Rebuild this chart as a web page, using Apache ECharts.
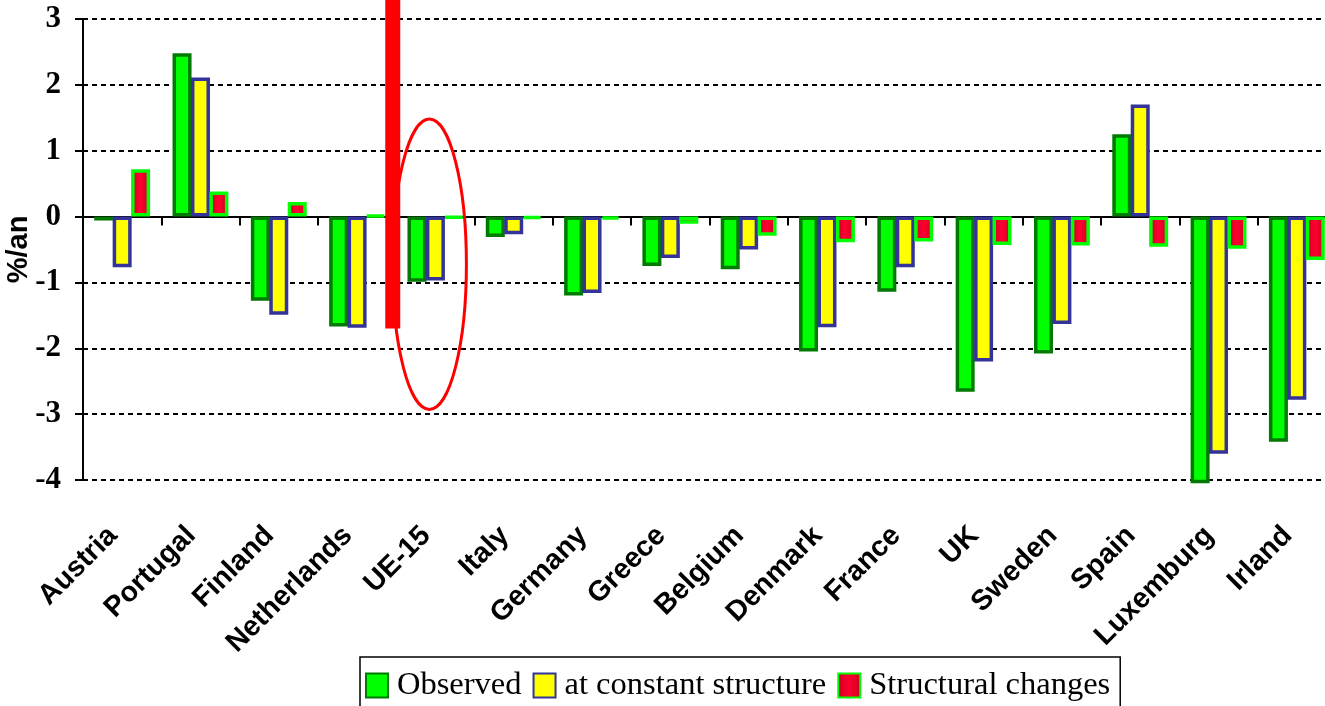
<!DOCTYPE html>
<html>
<head>
<meta charset="utf-8">
<script src="https://cdn.jsdelivr.net/npm/echarts@6/dist/echarts.min.js"></script>
<style>
  html, body { margin: 0; padding: 0; background: #fff; }
  #main { width: 1325px; height: 706px; }
</style>
</head>
<body>
<div id="main"></div>
<script>
var categories = ['Austria', 'Portugal', 'Finland', 'Netherlands', 'UE-15', 'Italy', 'Germany', 'Greece',
                  'Belgium', 'Denmark', 'France', 'UK', 'Sweden', 'Spain', 'Luxemburg', 'Irland'];
var observed   = [-0.06, 2.48, -1.28, -1.67, -0.99, -0.31, -1.20, -0.75, -0.80, -2.05, -1.14, -2.66, -2.08, 1.25, -4.05, -3.42];
var constant   = [-0.77, 2.11, -1.49, -1.69, -0.97, -0.27, -1.16, -0.63, -0.50, -1.68, -0.77, -2.20, -1.63, 1.70, -3.60, -2.78];
var structural = [0.72, 0.38, 0.22, 0.02, -0.02, -0.03, -0.04, -0.11, -0.29, -0.39, -0.38, -0.43, -0.44, -0.46, -0.49, -0.66];
var yTicks = { min: -4, max: 3, step: 1 };

// annotation: vertical red bar between Netherlands and UE-15, ellipse around UE-15
var barBottomValue = -1.7;
var ellipseTop = 1.48, ellipseBottom = -2.93;

var redFill = {
    type: 'linear', x: 0, y: 0, x2: 1, y2: 0,
    colorStops: [
        { offset: 0, color: '#c80020' },
        { offset: 0.5, color: '#ff0030' },
        { offset: 1, color: '#c80020' }
    ]
};

var myChart = echarts.init(document.getElementById('main'));

var option = {
    animation: false,
    backgroundColor: '#fff',
    grid: { left: 83, right: -11, top: 19, bottom: 226, containLabel: false, outerBoundsMode: 'none' },
    legend: {
        left: 360,
        top: 657,
        padding: [12, 10, 30, 5],
        borderColor: '#000',
        borderWidth: 1.5,
        backgroundColor: '#fff',
        icon: 'rect',
        itemWidth: 22,
        itemHeight: 24,
        itemGap: 11,
        textStyle: { fontFamily: 'Liberation Serif', fontSize: 32.5, color: '#000', padding: [0, 0, 0, 4] },
        data: ['Observed', 'at constant structure', 'Structural changes']
    },
    xAxis: [
        {
            type: 'category',
            data: categories,
            position: 'bottom',
            axisLine: { onZero: true, lineStyle: { color: '#000', width: 2 } },
            axisTick: { show: true, length: 9, interval: 0, lineStyle: { color: '#000', width: 2 } },
            axisLabel: { show: false },
            splitLine: { show: false }
        },
        {
            type: 'category',
            data: categories,
            position: 'bottom',
            axisLine: { show: false, onZero: false },
            axisTick: { show: false },
            axisLabel: {
                interval: 0, rotate: 45, margin: 42,
                padding: [0, 13, 0, 0],
                fontFamily: 'Liberation Sans', fontWeight: 'bold', fontSize: 28.5, color: '#000'
            },
            splitLine: { show: false }
        }
    ],
    yAxis: {
        type: 'value',
        min: yTicks.min,
        max: yTicks.max,
        interval: yTicks.step,
        name: '%/an',
        nameLocation: 'middle',
        nameGap: 50,
        nameRotate: 90,
        nameMoveOverlap: false,
        nameTextStyle: { fontFamily: 'Liberation Sans', fontWeight: 'bold', fontSize: 29, color: '#000' },
        axisLine: { show: true, onZero: false, lineStyle: { color: '#000', width: 2 } },
        axisTick: { show: true, length: 8, lineStyle: { color: '#000', width: 2 } },
        axisLabel: { fontFamily: 'Liberation Serif', fontWeight: 'bold', fontSize: 31, color: '#000', margin: 22 },
        splitLine: { show: true, lineStyle: { color: '#000', width: 2, type: [5, 4] } }
    },
    series: [
        {
            name: 'Observed', type: 'bar', data: observed,
            barWidth: 19, barGap: '-3%', clip: false,
            itemStyle: { color: '#00ff00', borderColor: '#007a00', borderWidth: 3.5 }
        },
        {
            name: 'at constant structure', type: 'bar', data: constant,
            barWidth: 19, barGap: '-3%', clip: false,
            itemStyle: { color: '#ffff00', borderColor: '#333399', borderWidth: 3.5 }
        },
        {
            name: 'Structural changes', type: 'bar', data: structural,
            barWidth: 19, barGap: '-3%', clip: false,
            itemStyle: { color: redFill, borderColor: '#00ff00', borderWidth: 3.5 }
        }
    ]
};
myChart.setOption(option);

// place the hand-drawn annotations from the axes
var ueIdx = categories.indexOf('UE-15');
var pNeth = myChart.convertToPixel({ xAxisIndex: 0, yAxisIndex: 0 }, [ueIdx - 1, 0]);
var pUe = myChart.convertToPixel({ xAxisIndex: 0, yAxisIndex: 0 }, [ueIdx, 0]);
var boundaryX = (pNeth[0] + pUe[0]) / 2;
var barBottom = myChart.convertToPixel({ yAxisIndex: 0 }, barBottomValue);
var eTop = myChart.convertToPixel({ yAxisIndex: 0 }, ellipseTop);
var eBottom = myChart.convertToPixel({ yAxisIndex: 0 }, ellipseBottom);

myChart.setOption({
    graphic: [
        {
            type: 'rect', z: 100,
            shape: { x: boundaryX - 11, y: 0, width: 15, height: barBottom },
            style: { fill: '#ff0000' }
        },
        {
            type: 'ellipse', z: 100,
            shape: { cx: pUe[0] - 6, cy: (eTop + eBottom) / 2, rx: 37, ry: (eBottom - eTop) / 2 },
            style: { fill: 'none', stroke: '#ff0000', lineWidth: 3 }
        }
    ]
});
</script>
</body>
</html>
